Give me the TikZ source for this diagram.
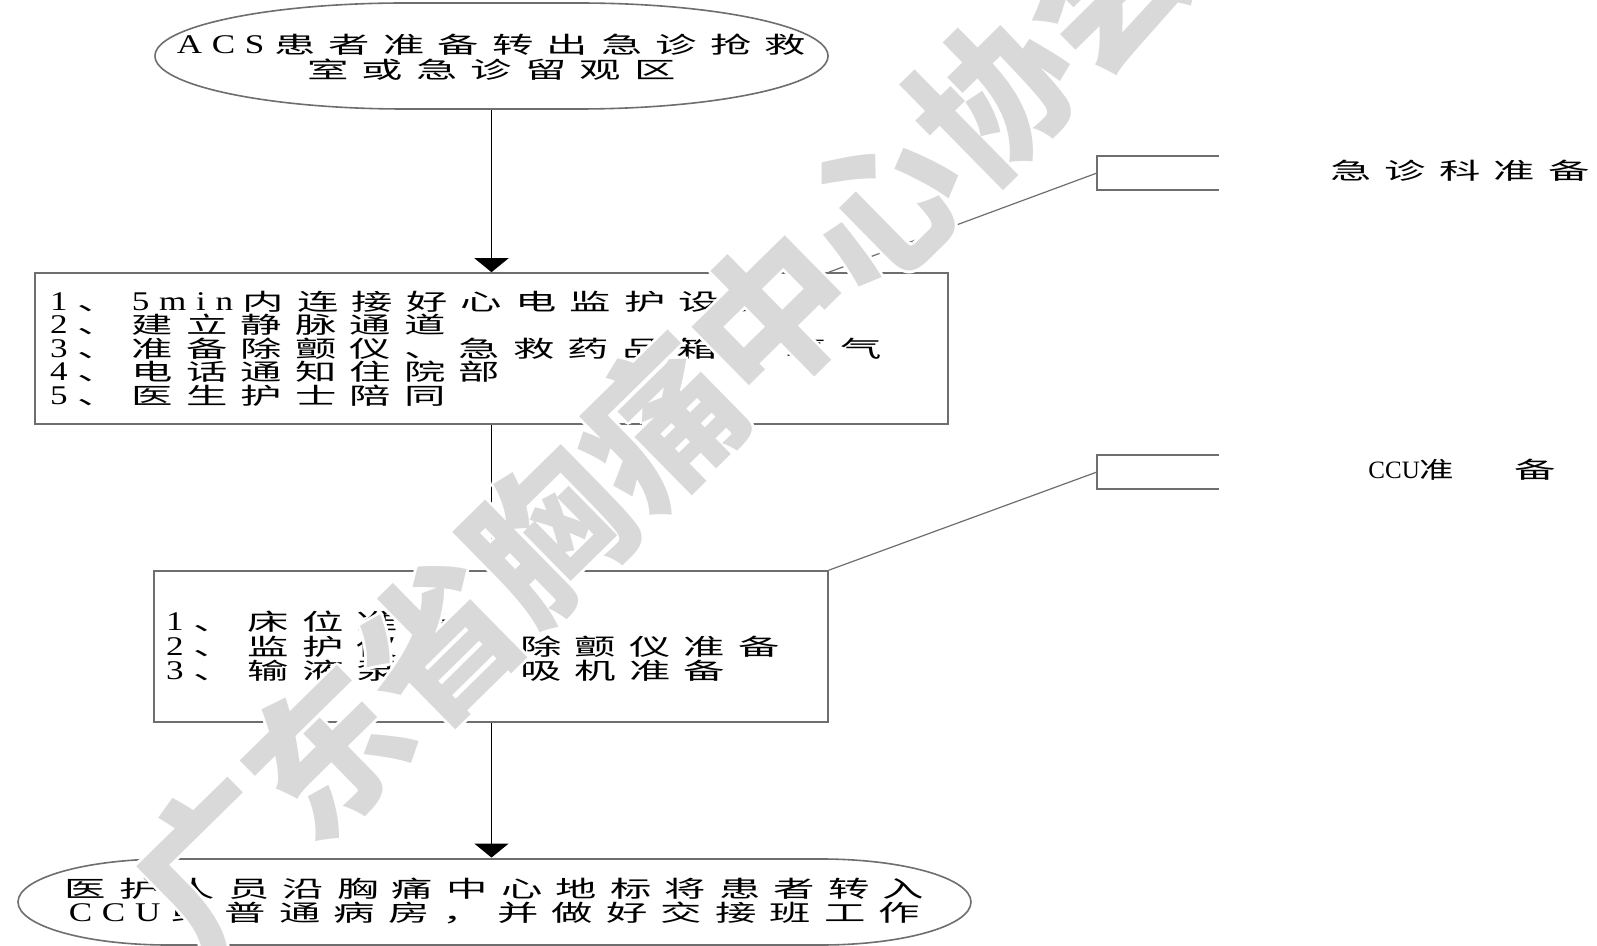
\documentclass[tikz,border=0pt]{standalone}
\usepackage{fontspec}
\setmainfont[FakeStretch=1.8,LetterSpace=57]{Noto Sans CJK SC}
\newfontfamily\latf[FakeStretch=1.3,LetterSpace=36]{Liberation Serif}
\newfontfamily\cjkn[FakeStretch=1.5]{Noto Sans CJK SC}
\newfontfamily\cjkp[FakeStretch=1.8]{Noto Sans CJK SC}
\newfontfamily\latp{Liberation Serif}
\newfontfamily\wmfont{Noto Sans CJK SC}
\newcommand\latrun[1]{{\latf\fontsize{13.5}{12}\selectfont #1}\hspace{4.86pt}}
\newcommand\cjkgap{\hspace{6.55pt}}
\usetikzlibrary{arrows.meta,calc}
\definecolor{wmgray}{HTML}{D9D9D9}
\definecolor{bord}{HTML}{6E6E6E}
\newcommand\ovalpath[5]{%
  \draw[bord, line width=0.8pt] (#1,{(#2+#4)/2}) .. controls (#1,{(#2+#4)/2-0.5523*(#4-#2)/2}) and ({#1+#5-0.5523*#5},#2) .. ({#1+#5},#2) -- ({#3-#5},#2) .. controls ({#3-#5+0.5523*#5},#2) and (#3,{(#2+#4)/2-0.5523*(#4-#2)/2}) .. (#3,{(#2+#4)/2}) .. controls (#3,{(#2+#4)/2+0.5523*(#4-#2)/2}) and ({#3-#5+0.5523*#5},#4) .. ({#3-#5},#4) -- ({#1+#5},#4) .. controls ({#1+#5-0.5523*#5},#4) and (#1,{(#2+#4)/2+0.5523*(#4-#2)/2}) .. (#1,{(#2+#4)/2}) -- cycle;}
\tikzset{
  box/.style={draw=bord, line width=0.8pt, rectangle, inner ysep=0pt, align=left},
  txt/.style={align=center, inner sep=0pt},
  flow/.style={draw=black, line width=0.7pt, -{Triangle[width=17pt,length=7pt]}},
  lead/.style={draw=bord, line width=0.6pt},
  wmstyle/.style={inner sep=0pt, rotate=44.5, font=\wmfont\bfseries\fontsize{78}{78}\selectfont},
}
\begin{document}
\begin{tikzpicture}[x=0.5pt,y=-0.5pt]
\useasboundingbox (0,0) rectangle (1597,946);
\fill[white] (0,0) rectangle (1597,946);

% start terminator
\ovalpath{155}{3}{828}{109}{250}
\node[txt, font=\fontsize{11.5}{12.5}\selectfont, minimum width=336.5pt, minimum height=53pt] (start) at (491.5,57)
  {\latrun{ACS}患者准备转出急诊抢救\\室或急诊留观区};

% emergency preparation box
\node[box, text width=441.5pt, inner xsep=7.5pt, minimum height=75.5pt, font=\fontsize{11.5}{11.75}\selectfont] (prep) at (491.5,348.5)
  {\latrun{1}、\cjkgap\latrun{5min}内连接好心电监护设备\\
   \latrun{2}、建立静脉通道\\
   \latrun{3}、准备除颤仪、急救药品箱、氧气\\
   \latrun{4}、电话通知住院部\\
   \latrun{5}、医生护士陪同};

% CCU preparation box
\node[box, text width=325pt, inner xsep=6pt, minimum height=75.5pt, font=\fontsize{11.5}{12.25}\selectfont] (ccu) at (491,646.5)
  {\latrun{1}、床位准备\\
   \latrun{2}、监护仪器、除颤仪准备\\
   \latrun{3}、输液泵、呼吸机准备};

% end terminator
\ovalpath{18}{859}{971}{945}{150}
\node[txt, font=\fontsize{11.5}{12}\selectfont, minimum width=476.5pt, minimum height=43pt] (end) at (494.5,901)
  {医护人员沿胸痛中心地标将患者转入\\\latrun{CCU}或普通病房，并做好交接班工作};

% flow arrows
\draw[flow] (start.south) -- (start.south |- prep.north);
\draw[flow] (start.south |- prep.south) -- (start.south |- ccu.north);
\draw[flow] (start.south |- ccu.south) -- (start.south |- end.north);

% annotation brackets
\coordinate (b1) at (1097,173);
\draw[lead] (1219,156) -- (1097,156) -- (1097,190) -- (1219,190);
\draw[lead] (b1) -- (prep.north -| ccu.north east);
\node[txt, anchor=west, font=\fontsize{11.5}{12}\selectfont] (l1) at (1330,171) {急诊科准备};

\coordinate (b2) at (1097,472);
\draw[lead] (1219,455) -- (1097,455) -- (1097,489) -- (1219,489);
\draw[lead] (b2) -- (ccu.north east);
\node[txt, anchor=west, font=\fontsize{11.5}{12}\selectfont] (l2) at (1368,470)
  {{\latp\fontsize{12.5}{12.5}\selectfont CCU}{\cjkn 准}\hspace{30pt}{\cjkp 备}};

% watermark
\begin{scope}
\clip (0,0) rectangle (1597,946);
\foreach \dx/\dy in {3/0,-3/0,0/3,0/-3,2/2,2/-2,-2/2,-2/-2}
  \node[wmstyle, text=white] at ($(660,425)+(\dx,\dy)$) {广东省胸痛中心协会};
\node[wmstyle, text=wmgray] (mark) at (660,425) {广东省胸痛中心协会};
\end{scope}
\end{tikzpicture}
\end{document}
